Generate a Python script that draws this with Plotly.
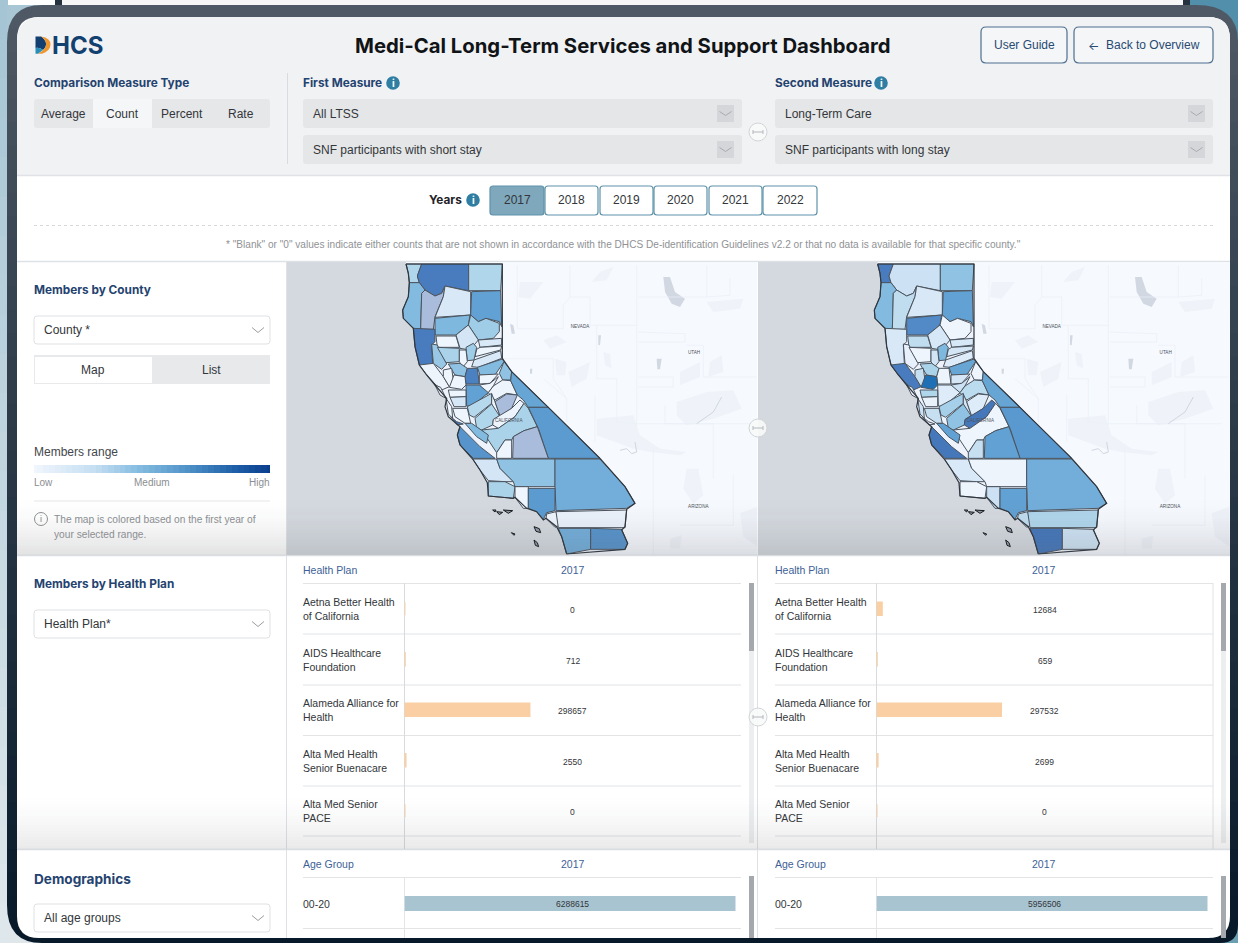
import plotly.graph_objects as go
from plotly.colors import sample_colorscale

W, H = 1238, 943
HEAD_FONT = "Inter, Liberation Sans, Arial, sans-serif"
BODY_FONT = "Liberation Sans, Arial, sans-serif"
NAVY = "#24436f"
LINKBLUE = "#3d6196"
GREY = "#8b8e92"
DARK = "#33363a"

# ---------- data ----------
YEARS = ["2017", "2018", "2019", "2020", "2021", "2022"]
MEASURE_TYPES = ["Average", "Count", "Percent", "Rate"]
HEALTH_PLANS = ["Aetna Better Health<br>of California", "AIDS Healthcare<br>Foundation",
                "Alameda Alliance for<br>Health", "Alta Med Health<br>Senior Buenacare",
                "Alta Med Senior<br>PACE"]
PLAN_FIRST = [0, 712, 298657, 2550, 0]
PLAN_SECOND = [12684, 659, 297532, 2699, 0]
AGE_GROUPS = ["00-20"]
AGE_FIRST = [6288615]
AGE_SECOND = [5956506]
LEGEND_STOPS = [i / 40 for i in range(41)]
MAP_SCALE = [[0, "#f3f7fe"], [0.15, "#d4e6f6"], [0.3, "#aad3ea"], [0.5, "#7fb8df"],
             [0.65, "#5b9bd0"], [0.8, "#4577bb"], [0.9, "#1f6fb4"], [1, "#0a3f8e"]]
MUTED = "#a9bcdc"

# County outlines, in map units; values are relative shade 0..1
COUNTIES = {
 "Del Norte": [(78,12),(125,12),(112,48),(118,68),(88,68),(85,40)],
 "Siskiyou": [(125,12),(266,12),(266,92),(195,78),(185,100),(165,108),(135,90),(118,68),(112,48)],
 "Modoc": [(266,12),(367,12),(362,92),(266,92)],
 "Humboldt": [(88,68),(118,68),(135,90),(125,100),(122,208),(100,205),(70,175),(68,150),(85,110)],
 "Trinity": [(135,90),(165,108),(185,100),(195,78),(190,110),(165,170),(160,208),(122,208),(125,100)],
 "Shasta": [(195,78),(272,95),(272,165),(165,172),(190,110)],
 "Lassen": [(275,95),(362,92),(365,200),(358,185),(318,175),(295,185),(272,165)],
 "Tehama": [(165,175),(270,165),(265,195),(228,225),(165,225)],
 "Plumas": [(272,165),(295,185),(318,175),(358,190),(358,215),(340,235),(295,240),(265,195)],
 "Mendocino": [(100,205),(165,208),(165,245),(155,255),(158,310),(135,322),(118,315),(105,260)],
 "Glenn": [(168,228),(228,228),(238,262),(172,262)],
 "Butte": [(228,225),(265,195),(295,240),(270,270),(240,265)],
 "Sierra": [(295,240),(365,235),(365,255),(300,262)],
 "Nevada": [(300,262),(365,258),(362,270),(285,290),(290,268)],
 "Yuba": [(258,262),(280,250),(290,262),(282,300),(262,302)],
 "Placer": [(282,300),(362,272),(365,295),(295,322),(275,320)],
 "Lake": [(155,252),(172,255),(200,312),(185,328),(160,310)],
 "Colusa": [(172,262),(238,265),(238,305),(198,308)],
 "Sutter": [(238,270),(258,270),(262,305),(248,322),(238,305)],
 "El Dorado": [(292,322),(367,297),(372,305),(345,345),(300,345)],
 "Alpine": [(372,305),(395,335),(392,360),(368,360),(358,340)],
 "Yolo": [(205,312),(240,310),(262,325),(255,350),(225,345)],
 "Sacramento": [(262,325),(292,325),(298,372),(258,372),(255,350)],
 "Sonoma": [(118,315),(160,310),(190,350),(208,380),(185,390),(165,372),(140,345)],
 "Napa": [(190,330),(215,325),(222,375),(208,380),(190,350)],
 "Solano": [(222,345),(255,350),(258,375),(245,388),(208,382)],
 "Amador": [(298,345),(355,342),(330,370),(298,372)],
 "Calaveras": [(298,375),(330,370),(355,350),(340,378),(320,405),(305,385)],
 "Tuolumne": [(368,360),(392,362),(412,405),(380,400),(345,420),(325,398),(340,378)],
 "Mono": [(395,335),(505,442),(445,442),(430,420),(412,405),(392,362)],
 "San Joaquin": [(258,375),(298,375),(325,398),(300,420),(275,440),(260,438)],
 "Marin": [(165,375),(182,382),(198,415),(180,405)],
 "Contra Costa": [(205,390),(258,390),(258,410),(210,412)],
 "Alameda": [(210,412),(258,410),(258,440),(222,440)],
 "San Mateo": [(198,415),(215,440),(218,475),(205,462)],
 "Santa Clara": [(218,445),(262,445),(272,490),(255,490),(225,470)],
 "Stanislaus": [(262,440),(300,420),(335,400),(335,430),(282,472),(268,465)],
 "Mariposa": [(335,402),(345,425),(360,468),(350,470),(335,432)],
 "Madera": [(345,425),(380,402),(412,405),(395,445),(360,468)],
 "Merced": [(285,475),(335,432),(358,467),(340,480),(338,495),(305,510),(290,505)],
 "Fresno": [(340,478),(395,445),(420,420),(432,430),(405,470),(355,505),(338,495)],
 "Tulare North": [(305,510),(355,505),(405,470),(432,430),(445,445),(472,500),(432,512),(400,530),(395,540),(375,540),(350,578),(325,540)],
 "Inyo": [(445,442),(505,442),(660,595),(505,595),(490,550),(475,505)],
 "Santa Cruz": [(212,470),(230,485),(250,492),(232,495)],
 "Monterey": [(232,525),(240,500),(300,560),(345,595),(280,595),(240,555)],
 "San Benito": [(255,490),(275,490),(325,525),(320,550),(290,530)],
 "Kings": [(350,578),(375,540),(395,540),(395,595),(350,595)],
 "Tulare": [(400,530),(432,512),(472,500),(490,550),(505,595),(398,595)],
 "San Luis Obispo": [(278,597),(350,597),(360,625),(400,665),(375,665),(325,662),(300,630)],
 "Kern": [(350,597),(525,597),(525,680),(405,680),(400,665),(360,625)],
 "San Bernardino": [(525,597),(660,597),(735,680),(765,730),(740,745),(528,752),(525,680)],
 "Santa Barbara": [(325,665),(375,665),(405,680),(400,715),(325,708)],
 "Ventura": [(405,680),(445,680),(445,745),(430,745),(405,712)],
 "Los Angeles": [(445,685),(525,685),(525,752),(500,758),(490,778),(470,755),(445,745)],
 "Orange": [(500,762),(528,755),(540,795),(525,802),(498,775)],
 "Riverside": [(528,755),(740,750),(735,803),(535,803)],
 "San Diego": [(535,805),(632,805),(632,868),(560,882),(545,830)],
 "Imperial": [(632,805),(725,808),(743,850),(735,868),(632,868)],
}
FIRST_VALUES = {
 "Del Norte":.28,"Siskiyou":.78,"Modoc":.28,"Humboldt":.48,"Trinity":None,"Shasta":.13,"Lassen":.62,
 "Tehama":.5,"Plumas":.35,"Mendocino":.78,"Glenn":.02,"Butte":.15,"Sierra":.12,"Nevada":.02,"Yuba":.35,
 "Placer":.12,"Lake":.38,"Colusa":.3,"Sutter":.02,"El Dorado":.48,"Alpine":.42,"Yolo":.42,"Sacramento":.76,
 "Sonoma":.03,"Napa":.02,"Solano":.02,"Amador":.02,"Calaveras":.02,"Tuolumne":.03,"Mono":.6,
 "San Joaquin":.62,"Marin":.03,"Contra Costa":.02,"Alameda":.14,"San Mateo":.02,"Santa Clara":.02,
 "Stanislaus":.26,"Mariposa":.02,"Madera":None,"Merced":.28,"Fresno":.03,"Tulare North":.3,"Inyo":.65,
 "Santa Cruz":.8,"Monterey":.68,"San Benito":.48,"Kings":.02,"Tulare":None,"San Luis Obispo":.15,
 "Kern":.42,"San Bernardino":.55,"Santa Barbara":.3,"Ventura":.02,"Los Angeles":.65,"Orange":.02,
 "Riverside":.04,"San Diego":.55,"Imperial":.68,
}
SECOND_VALUES = {
 "Del Norte":.78,"Siskiyou":.18,"Modoc":.42,"Humboldt":.48,"Trinity":.22,"Shasta":.13,"Lassen":.62,
 "Tehama":.72,"Plumas":.02,"Mendocino":.13,"Glenn":.22,"Butte":.14,"Sierra":.14,"Nevada":.15,"Yuba":.5,
 "Placer":.1,"Lake":.06,"Colusa":.02,"Sutter":.16,"El Dorado":.6,"Alpine":.02,"Yolo":.3,"Sacramento":.03,
 "Sonoma":.78,"Napa":.2,"Solano":.9,"Amador":.15,"Calaveras":.18,"Tuolumne":.24,"Mono":.6,
 "San Joaquin":.1,"Marin":.05,"Contra Costa":.28,"Alameda":.05,"San Mateo":.18,"Santa Clara":.2,
 "Stanislaus":.32,"Mariposa":.15,"Madera":.1,"Merced":.42,"Fresno":.8,"Tulare North":.02,"Inyo":.66,
 "Santa Cruz":.06,"Monterey":.8,"San Benito":.62,"Kings":.2,"Tulare":.62,"San Luis Obispo":.12,
 "Kern":.03,"San Bernardino":.55,"Santa Barbara":.03,"Ventura":.18,"Los Angeles":.62,"Orange":.22,
 "Riverside":.28,"San Diego":.8,"Imperial":.17,
}
COAST = [(78,12),(85,40),(88,68),(85,110),(68,150),(70,175),(100,205),(105,260),(118,315),(140,345),
         (165,375),(200,415),(195,440),(205,470),(240,500),(232,525),(240,555),(278,597),(300,630),
         (322,668),(325,708),(400,715),(405,712),(440,745),(470,755),(490,780),(498,775),(530,800),
         (545,830),(560,882)]
INLAND_BORDER = [(78,12),(367,12),(367,295),(395,335),(505,442),(660,595),(735,680),(765,730),(740,748),
                 (735,800),(725,810),(743,850),(735,868),(560,882)]
ISLANDS = [[(338,750),(348,750),(345,756)],[(350,755),(368,757),(358,764)],[(370,750),(398,752),(385,760)],
           [(462,800),(478,806),(482,818),(468,814)],[(394,818),(405,822),(402,826)],[(462,840),(472,848),(476,860),(466,856)]]
# Pale terrain outside California (map units)
DARK_LAKES = [[(850,51),(870,51),(885,96),(915,116),(900,141),(875,131),(855,96)],
              [(390,191),(400,196),(405,221),(395,221)],[(830,296),(845,296),(840,328),(832,328)],
              [(655,226),(663,226),(660,256),(655,254)],[(450,326),(457,326),(456,341),(450,341)]]
PALE_TERRAIN = [[(890,426),(980,396),(1060,391),(1085,446),(1000,476),(920,496),(890,466)],
                [(525,296),(560,306),(555,346),(530,346)],[(565,336),(630,306),(620,356),(575,381)],
                [(670,276),(690,281),(695,326),(675,316)],[(920,626),(955,626),(970,706),(940,731),(910,686)],
                [(650,476),(760,466),(780,526),(840,566),(920,576),(900,586),(810,576),(760,566),(650,526)],
                [(980,126),(1090,116),(1080,146),(1000,156)],[(990,306),(1025,286),(1030,336),(985,351)],
                [(660,36),(700,21),(680,61),(635,66)],[(420,66),(490,66),(450,116),(415,111)],
                [(900,336),(960,306),(960,351),(900,376)],[(530,226),(490,241),(510,266),(560,246)],
                [(870,836),(905,826),(900,866),(870,866)],[(1080,760),(1133,740),(1133,860),(1090,830)]]
FAINT_LINES = [[(412,16),(412,206),(550,206),(550,136),(570,111),(630,111),(630,196),(770,196)],
               [(770,16),(770,496)],[(570,16),(570,111)],[(775,111),(980,111)],
               [(775,216),(915,221),(915,246),(775,246)],[(650,196),(650,356),(710,356),(710,486),(770,491)],
               [(360,296),(520,296),(520,356),(560,416),(560,486)],[(490,356),(560,416)],[(645,406),(645,546)],
               [(775,351),(880,351),(880,381),(775,381)],[(855,436),(855,491),(1110,491)],
               [(770,491),(1000,491),(1000,656)],[(820,566),(820,886)],[(1060,646),(1060,796),(900,796)],
               [(920,256),(970,256),(970,351),(1130,351)],[(980,16),(980,111),(1050,106),(1050,56)]]
RIVERS = [[(720,571),(740,566),(755,581),(770,576),(765,546)],[(950,491),(1000,456),(1025,411)]]
STATE_LABELS = [("NEVADA",600,201),("UTAH",942,278),("ARIZONA",955,741),("CALIFORNIA",386,482)]


def colour(v):
    return MUTED if v is None else sample_colorscale(MAP_SCALE, [v])[0]


shapes, ann = [], []


def rect(x0, y0, x1, y1, fill=None, line=None, lw=1, layer="below", dash=None):
    shapes.append(dict(type="rect", xref="x", yref="y", x0=x0, y0=y0, x1=x1, y1=y1, layer=layer,
                       fillcolor=fill or "rgba(0,0,0,0)",
                       line=dict(color=line or "rgba(0,0,0,0)", width=lw if line else 0, dash=dash or "solid")))


def rrect(x0, y0, x1, y1, r=3, fill=None, line=None, lw=1, layer="below"):
    p = (f"M{x0+r},{y0} L{x1-r},{y0} Q{x1},{y0} {x1},{y0+r} L{x1},{y1-r} Q{x1},{y1} {x1-r},{y1} "
         f"L{x0+r},{y1} Q{x0},{y1} {x0},{y1-r} L{x0},{y0+r} Q{x0},{y0} {x0+r},{y0} Z")
    shapes.append(dict(type="path", xref="x", yref="y", path=p, layer=layer,
                       fillcolor=fill or "rgba(0,0,0,0)",
                       line=dict(color=line or "rgba(0,0,0,0)", width=lw if line else 0)))


def path(p, fill=None, line=None, lw=1, layer="below"):
    shapes.append(dict(type="path", xref="x", yref="y", path=p, layer=layer,
                       fillcolor=fill or "rgba(0,0,0,0)",
                       line=dict(color=line or "rgba(0,0,0,0)", width=lw if line else 0)))


def hline(x0, x1, y, color="#e2e4e6", lw=1, layer="below", dash="solid"):
    shapes.append(dict(type="line", xref="x", yref="y", x0=x0, x1=x1, y0=y, y1=y, layer=layer,
                       line=dict(color=color, width=lw, dash=dash)))


def vline(x, y0, y1, color="#e2e4e6", lw=1, layer="below"):
    shapes.append(dict(type="line", xref="x", yref="y", x0=x, x1=x, y0=y0, y1=y1, layer=layer,
                       line=dict(color=color, width=lw)))


def circle(cx, cy, r, fill=None, line=None, lw=1, layer="below"):
    shapes.append(dict(type="circle", xref="x", yref="y", x0=cx-r, x1=cx+r, y0=cy-r, y1=cy+r, layer=layer,
                       fillcolor=fill or "rgba(0,0,0,0)",
                       line=dict(color=line or "rgba(0,0,0,0)", width=lw if line else 0)))


def text(x, y, s, size=12, color=DARK, anchor="left", bold=False, family=None):
    fx = x - 1 if anchor == "left" else (x + 1 if anchor == "right" else x)
    fy = y - 0.6 if "<br>" in s else y + 0.4
    ann.append(dict(x=fx, y=fy, xref="x", yref="y", text=s, showarrow=False, xanchor=anchor, yanchor="middle",
                    align=anchor, borderpad=0,
                    font=dict(family=family or (HEAD_FONT if bold else BODY_FONT), size=size, color=color,
                              weight=700 if bold else 400)))


def mix(a, b, t):
    return tuple(a[i] + (b[i] - a[i]) * t for i in range(3))


def rgb(c):
    return f"rgb({c[0]:.0f},{c[1]:.0f},{c[2]:.0f})"


def chevron(cx, cy, color="#9a9da1", w=5, h=3.5, layer="below"):
    path(f"M{cx-w},{cy-h/2} L{cx},{cy+h/2} L{cx+w},{cy-h/2}", line=color, lw=1, layer=layer)


def info(cx, cy):
    circle(cx, cy, 6.8, fill="#2f7ea3")
    text(cx, cy - 0.5, "i", 10, "white", "center", True)


def swap(cx, cy, layer="above"):
    circle(cx, cy, 9, fill="rgba(248,249,250,0.9)", line="#d2d5d8", lw=1, layer=layer)
    hline(cx-5, cx+5, cy, "#b5b9bd", 1, layer)
    vline(cx-5, cy-2, cy+2, "#b5b9bd", 1, layer)
    vline(cx+5, cy-2, cy+2, "#b5b9bd", 1, layer)


# ---------- page and frame ----------
for i in range(24):
    y0, y1 = i * H / 24, (i + 1) * H / 24
    rect(0, y0, 8, y1 + 1, rgb(mix((166, 197, 212), (222, 231, 235), i / 23)))
rect(1190, 0, W, 50, "#528fab")
rect(1190, 900, W, H, "#6aa0b2")
rect(55, 0, 62, 6, "#26333f")
rect(62, 0, 1183, 6, "#f6f6f6")
rect(1183, 0, 1190, 6, "#26333f")
for i in range(40):
    y0 = 5 + i * (H - 5) / 40
    y1 = 5 + (i + 1) * (H - 5) / 40
    rect(7, y0, W, y1 + 1, rgb(mix((79, 89, 101), (8, 26, 42), (i / 39) ** 0.9)))
path(f"M7,5 L42,5 Q7,5 7,42 Z", "#a8c6d4")
path(f"M{W},5 L{W},42 Q{W},5 1196,5 Z", "#528fab")
path(f"M7,{H} L7,905 Q7,{H} 42,{H} Z", "#dfe7eb")
path(f"M{W},{H} L{W},925 Q{W},{H} 1220,{H} Z", "#6aa0b2")
rrect(17, 17, 1230, 938, 22, "#ffffff")
path("M17,175 L17,42 Q17,17 42,17 L1208,17 Q1230,17 1230,39 L1230,175 Z", "#f1f2f4")
hline(17, 1230, 175.5, "#e0e2e5", 1.5)

# ---------- header ----------
text(52, 45, "HCS", 24, "#12406f", "left", True)
path("M35.5,36.5 L41,36.5 Q45,39 46,43 Q46.5,47 43,50 Q39,47 35.5,48 Z", "#123f70")
path("M41,36.5 Q51,38 50.5,45 Q50,51 42,53.7 L38,53.7 Q47,49 46,43 Q45,39 41,36.5 Z", "#f0962e")
path("M35.5,48 Q39,47 43,50 Q40,52 38,53.7 L35.5,53.7 Z", "#2a8fb8")
text(623, 45.5, "Medi-Cal Long-Term Services and Support Dashboard", 20.3, "#111417", "center", True)
rrect(981, 27, 1067, 63, 5, "#f5f6f8", "#4e6f8f", 1.2)
rrect(1074, 27, 1213, 63, 5, "#f5f6f8", "#4e6f8f", 1.2)
text(1024, 45, "User Guide", 12, "#274a72", "center")
text(1093.5, 45, "←", 12, "#274a72", "center", family=HEAD_FONT)
text(1153, 45, "Back to Overview", 12, "#274a72", "center")

text(34, 83, "Comparison Measure Type", 11.8, NAVY, bold=True)
text(303, 83, "First Measure", 11.8, NAVY, bold=True)
text(775, 83, "Second Measure", 11.8, NAVY, bold=True)
info(393, 83)
info(881, 83)
vline(287.5, 73, 164, "#d9dbde")
rrect(34, 99, 270, 128, 3, "#e6e7e9")
rect(93, 99, 152, 128, "#f5f6f7")
for name, cx in zip(MEASURE_TYPES, [63.5, 122.5, 181.5, 240.5]):
    text(cx, 114, name, 12, DARK, "center")
for x0, x1, rows in [(303, 742, ["All LTSS", "SNF participants with short stay"]),
                     (775, 1213, ["Long-Term Care", "SNF participants with long stay"])]:
    for y0, label in zip([99, 135], rows):
        rrect(x0, y0, x1, y0 + 29, 3, "#e5e6e8")
        rect(x1 - 25, y0 + 6, x1 - 8, y0 + 23, "#d4d6d9")
        chevron(x1 - 16.5, y0 + 14.5, "#a7aaae", 6, 4)
        text(x0 + 10, y0 + 15, label, 12, DARK)
swap(758, 132, "below")

# ---------- years ----------
text(462, 200, "Years", 11.8, "#1f2329", "right", True)
info(473, 200)
YEAR_X = [(490, 544), (545, 598), (600, 653), (654, 707), (709, 762), (763, 817)]
for yr, (x0, x1) in zip(YEARS, YEAR_X):
    sel = yr == YEARS[0]
    rrect(x0, 186, x1, 215, 3, "#7fa8bc" if sel else "#ffffff", "#5f93ab", 1.2)
    text((x0 + x1) / 2, 200, yr, 12, DARK, "center")
hline(34, 1213, 225.5, "#d6d8da", 1, dash="dot")
text(623.5, 244, '* "Blank" or "0" values indicate either counts that are not shown in accordance with the '
     'DHCS De-identification Guidelines v2.2 or that no data is available for that specific county."',
     10.1, "#8f9295", "center")
hline(17, 1230, 261.5, "#dfe2e5", 1.5)
hline(17, 1230, 555.5, "#d9dde1", 1.5, "above")
hline(17, 1230, 849.5, "#d9dde1", 1.5, "above")
vline(286.5, 262, 938, "#dfe1e4")
vline(757.5, 555, 938, "#dfe1e4")


# ---------- sidebar ----------
def dropdown(y0, label):
    rrect(34, y0, 270, y0 + 28, 3, "#ffffff", "#dfe1e4")
    text(44, y0 + 14, label, 12, DARK)
    chevron(258, y0 + 14, "#9a9da1", 6, 5)


text(34, 290, "Members by County", 11.8, NAVY, bold=True)
dropdown(316, "County *")
rect(34, 355, 270, 384, "#e8e9eb")
rect(35, 357, 152, 383, "#ffffff")
text(93, 369.5, "Map", 12, DARK, "center")
text(211, 369.5, "List", 12, DARK, "center")
text(34, 452, "Members range", 12, "#44474b")
text(34, 482, "Low", 10, GREY)
text(152, 482, "Medium", 10, GREY, "center")
text(270, 482, "High", 10, GREY, "right")
hline(34, 270, 501, "#e6e7e9")
circle(41, 519, 6.5, None, "#8f9295", 1)
text(41, 518.5, "i", 9, "#7c7f83", "center")
text(54, 519, "The map is colored based on the first year of", 10.2, GREY)
text(54, 534, "your selected range.", 10.2, GREY)
text(34, 584, "Members by Health Plan", 11.8, NAVY, bold=True)
dropdown(610, "Health Plan*")
text(34, 879, "Demographics", 13.6, NAVY, bold=True)
dropdown(904, "All age groups")


# ---------- tables ----------
def table(x_label, x_base, x_right, x_mid, right_border):
    text(x_label, 569.5, "Health Plan", 10.5, LINKBLUE)
    text(x_mid, 569.5, YEARS[0], 10.5, LINKBLUE, "center")
    text(x_label, 863.5, "Age Group", 10.5, LINKBLUE)
    text(x_mid, 863.5, YEARS[0], 10.5, LINKBLUE, "center")
    for y in [583.5, 634, 685, 735.5, 786, 836]:
        hline(x_label, x_right, y, "#e2e4e6", 1.2)
    for y in [877.5, 928.5]:
        hline(x_label, x_right, y, "#e2e4e6", 1.2)
    vline(x_base, 583, 849, "#d8dadd")
    vline(x_base, 878, 938, "#e2e4e6")
    if right_border:
        vline(x_right, 583, 849, "#e0e2e4")
    track = x_right + 8
    rect(track, 583, track + 5, 843, "#eceef0")
    rect(track, 583, track + 5, 651, "#a5a9ad")
    rect(track, 876, track + 5, 938, "#a5a9ad")


table(303, 404.5, 741, 572.5, False)
table(775, 876.5, 1213, 1044, True)
ROW_Y = [609, 660, 710, 761, 811]
for x_label, x_mid, vals, ages in [(303, 572.5, PLAN_FIRST, AGE_FIRST), (775, 1044.5, PLAN_SECOND, AGE_SECOND)]:
    for name, v, y in zip(HEALTH_PLANS, vals, ROW_Y):
        text(x_label, y + 0.5, name, 10.5, DARK)
        text(x_mid, y + 1, str(v), 8.5, DARK, "center")
    text(x_label, 903.5, AGE_GROUPS[0], 10.5, DARK)
    text(x_mid, 904, str(ages[0]), 8.5, DARK, "center")

# ---------- bottom fades and swap buttons ----------
for (y0, y1, x0, x1, top) in [(500, 555, 17, 1230, 0.17), (795, 849, 17, 1230, 0.13)]:
    n = 18
    for i in range(n):
        a = top * ((i + 1) / n) ** 1.6
        yy0 = y0 + i * (y1 - y0) / n
        yy1 = y0 + (i + 1) * (y1 - y0) / n
        rect(x0, yy0, x1, yy1, f"rgba(90,92,95,{a:.3f})", layer="above")
swap(758, 428)
swap(758, 717)

# ---------- traces ----------
fig = go.Figure()
fig.add_trace(go.Scatter(x=[0, W], y=[0, H], mode="markers", marker=dict(opacity=0), hoverinfo="skip",
                         showlegend=False, xaxis="x", yaxis="y"))


def poly_trace(poly, xa, ya, fill, line=None, lw=1, name=None):
    fig.add_trace(go.Scatter(x=[p[0] for p in poly] + [poly[0][0]], y=[p[1] for p in poly] + [poly[0][1]],
                             fill="toself", mode="lines" if line else "none", fillcolor=fill,
                             line=dict(color=line or "rgba(0,0,0,0)", width=lw), name=name or "",
                             hoverinfo="name" if name else "skip", showlegend=False, xaxis=xa, yaxis=ya))


def line_trace(segs, xa, ya, color, lw):
    fx, fy = [], []
    for seg in segs:
        fx += [p[0] for p in seg] + [None]
        fy += [p[1] for p in seg] + [None]
    fig.add_trace(go.Scatter(x=fx, y=fy, mode="lines", line=dict(color=color, width=lw),
                             hoverinfo="skip", showlegend=False, xaxis=xa, yaxis=ya))


def add_map(xa, ya, values):
    poly_trace([(-300, 0), (1200, 0), (1200, 900), (-300, 900)], xa, ya, "#f6f9fe")
    poly_trace([(-300, 0), (78, 0)] + COAST + [(560, 900), (-300, 900)], xa, ya, "#d4d9df")
    for blob in PALE_TERRAIN:
        poly_trace(blob, xa, ya, "#eff3f9")
    for lake in DARK_LAKES:
        poly_trace(lake, xa, ya, "#d2d8e2")
    line_trace(FAINT_LINES, xa, ya, "#ebeff6", 0.7)
    line_trace(RIVERS, xa, ya, "#ccd2db", 0.9)
    poly_trace(COAST + INLAND_BORDER[::-1], xa, ya, "#eef3fb")
    for name, poly in COUNTIES.items():
        poly_trace(poly, xa, ya, colour(values[name]), "#4b545e", 1, name)
    line_trace([COAST, INLAND_BORDER], xa, ya, "#2f363e", 1.2)
    for isl in ISLANDS:
        poly_trace(isl, xa, ya, "#8f99a5", "#15191d", 1)
    fig.add_trace(go.Scatter(x=[s[1] for s in STATE_LABELS], y=[s[2] for s in STATE_LABELS],
                             text=[s[0] for s in STATE_LABELS], mode="text",
                             textfont=dict(family=BODY_FONT, size=4.6, color="#4c5258"), hoverinfo="skip",
                             showlegend=False, xaxis=xa, yaxis=ya))


add_map("x2", "y2", FIRST_VALUES)
add_map("x3", "y3", SECOND_VALUES)

fig.add_trace(go.Heatmap(z=[LEGEND_STOPS], x=LEGEND_STOPS, y=[0], colorscale=
                         [[0, "#f1f6fd"], [0.25, "#c6dff2"], [0.45, "#83bbe0"], [0.65, "#4f92c8"],
                          [0.85, "#1f5ea8"], [1, "#0a3f8e"]],
                         showscale=False, hoverinfo="skip", xaxis="x4", yaxis="y4"))


def add_bars(xa, ya, cats, vals, colour_):
    fig.add_trace(go.Bar(x=vals, y=cats, orientation="h",
                         marker=dict(color=colour_, line=dict(color=colour_, width=1.5)),
                         cliponaxis=False, hovertemplate="%{x}<extra></extra>", showlegend=False,
                         width=0.26, xaxis=xa, yaxis=ya))


add_bars("x5", "y5", HEALTH_PLANS, PLAN_FIRST, "#f9cfa3")
add_bars("x6", "y6", HEALTH_PLANS, PLAN_SECOND, "#f9cfa3")
add_bars("x7", "y7", AGE_GROUPS, AGE_FIRST, "#a9c4d1")
add_bars("x8", "y8", AGE_GROUPS, AGE_SECOND, "#a9c4d1")


def dx(a, b):
    return [a / W, b / W]


def dy(top, bottom):
    return [1 - bottom / H, 1 - top / H]


def ax(**kw):
    return dict(visible=False, fixedrange=True, showgrid=False, zeroline=False, **kw)


layout = dict(
    width=W, height=H, margin=dict(l=0, r=0, t=0, b=0, pad=0), autosize=False, showlegend=False,
    paper_bgcolor="#ffffff", plot_bgcolor="rgba(0,0,0,0)", font=dict(family=BODY_FONT),
    shapes=shapes, annotations=ann, barmode="overlay",
    xaxis=ax(domain=[0, 1], range=[0, W], anchor="y"),
    yaxis=ax(domain=[0, 1], range=[H, 0], anchor="x"),
    xaxis2=ax(domain=dx(287, 757), range=[-279, 1131], anchor="y2"),
    yaxis2=ax(domain=dy(262, 555), range=[885, 6], anchor="x2"),
    xaxis3=ax(domain=dx(758, 1230), range=[-281, 1135], anchor="y3"),
    yaxis3=ax(domain=dy(262, 555), range=[885, 6], anchor="x3"),
    xaxis4=ax(domain=dx(34, 270), range=[0, 1], anchor="y4"),
    yaxis4=ax(domain=dy(465, 473), range=[-0.5, 0.5], anchor="x4"),
)
for n, base, cats_top, cats_bot, scale, cats in [
    (5, 404.75, 583.5, 836, 2390.0, HEALTH_PLANS), (6, 876.75, 583.5, 836, 2390.0, HEALTH_PLANS),
    (7, 404.75, 878, 929, 19056.0, AGE_GROUPS), (8, 876.75, 878, 929, 18050.0, AGE_GROUPS)]:
    layout[f"xaxis{n}"] = ax(domain=dx(base, base + 332), range=[0, 332 * scale], anchor=f"y{n}")
    layout[f"yaxis{n}"] = ax(domain=dy(cats_top, cats_bot), range=[len(cats) - 0.5, -0.5], anchor=f"x{n}",
                             type="category", categoryorder="array", categoryarray=cats)
fig.update_layout(**layout)

fig.write_html("out.html", config=dict(displayModeBar=False, responsive=False),
               post_script="document.body.style.margin='0';document.body.style.overflow='hidden';")
